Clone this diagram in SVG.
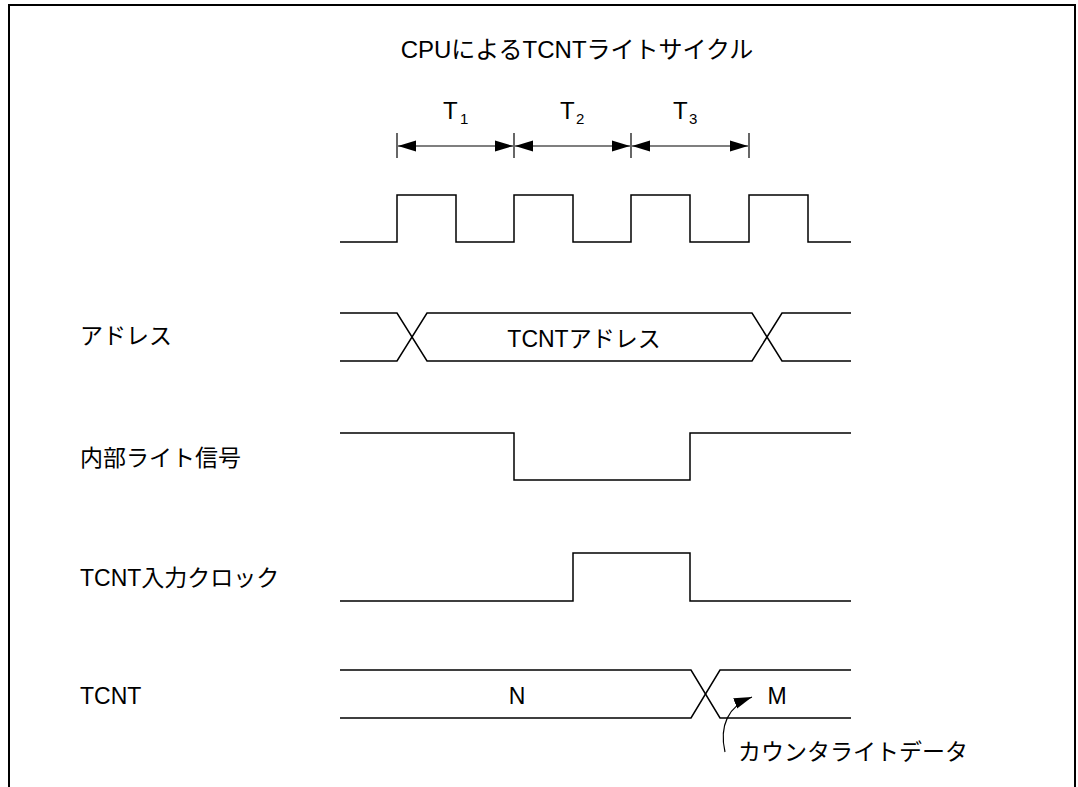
<svg xmlns="http://www.w3.org/2000/svg" width="1078" height="787" viewBox="0 0 1078 787">
<defs>
<marker id="ah" markerUnits="userSpaceOnUse" markerWidth="18" markerHeight="12" viewBox="0 0 18 12" refX="18" refY="6" orient="auto-start-reverse">
<path d="M0,0.5 L18,6 L0,11.5 Z" fill="#000"/>
</marker>
<style>
text{font-family:"Liberation Sans","Noto Sans CJK JP",sans-serif;font-size:23px;fill:#000}
.sub{font-size:15px}
.w{fill:none;stroke:#000;stroke-width:1.5}
.t{stroke:#000;stroke-width:1.2;fill:none}
</style>
</defs>
<rect width="1078" height="787" fill="#fff"/>
<path d="M9,800 L9,5 L1075,5 L1075,800" fill="none" stroke="#000" stroke-width="2"/>
<text x="577" y="58" text-anchor="middle" style="font-size:24px">CPUによるTCNTライトサイクル</text>
<g id="periods">
<text x="443" y="119" style="font-size:24px">T</text><text x="460" y="124" class="sub">1</text>
<text x="560" y="119" style="font-size:24px">T</text><text x="576" y="124" class="sub">2</text>
<text x="673" y="119" style="font-size:24px">T</text><text x="689" y="124" class="sub">3</text>
</g>
<g id="connectors">
<line class="t" x1="397" y1="133" x2="397" y2="158"/>
<line class="t" x1="514" y1="133" x2="514" y2="158"/>
<line class="t" x1="631" y1="133" x2="631" y2="158"/>
<line class="t" x1="749" y1="133" x2="749" y2="158"/>
<line class="t" x1="398" y1="146" x2="513" y2="146" marker-start="url(#ah)" marker-end="url(#ah)"/>
<line class="t" x1="515" y1="146" x2="630" y2="146" marker-start="url(#ah)" marker-end="url(#ah)"/>
<line class="t" x1="632" y1="146" x2="748" y2="146" marker-start="url(#ah)" marker-end="url(#ah)"/>
<path class="t" d="M725,752 C719,726 728,706 752,697" marker-end="url(#ah)"/>
</g>
<g id="clock">
<path class="w" d="M340,242 H397 V195 H456 V242 H514 V195 H573 V242 H631 V195 H690 V242 H749 V195 H808 V242 H851"/>
</g>
<g id="address">
<text x="80" y="344">アドレス</text>
<path class="w" d="M340,313 H397 L427,361 H752 L782,313 H851"/>
<path class="w" d="M340,361 H397 L427,313 H752 L782,361 H851"/>
<text x="584" y="347" text-anchor="middle">TCNTアドレス</text>
</g>
<g id="write">
<text x="80" y="466">内部ライト信号</text>
<path class="w" d="M340,433 H514 V480 H690 V433 H851"/>
</g>
<g id="inclock">
<text x="80" y="586">TCNT入力クロック</text>
<path class="w" d="M340,601 H573 V553 H690 V601 H851"/>
</g>
<g id="tcnt">
<text x="80" y="704">TCNT</text>
<path class="w" d="M340,670 H691 L720,718 H851"/>
<path class="w" d="M340,718 H691 L720,670 H851"/>
<text x="517" y="704" text-anchor="middle">N</text>
<text x="777" y="704" text-anchor="middle">M</text>
<text x="738" y="760">カウンタライトデータ</text>
</g>
</svg>
